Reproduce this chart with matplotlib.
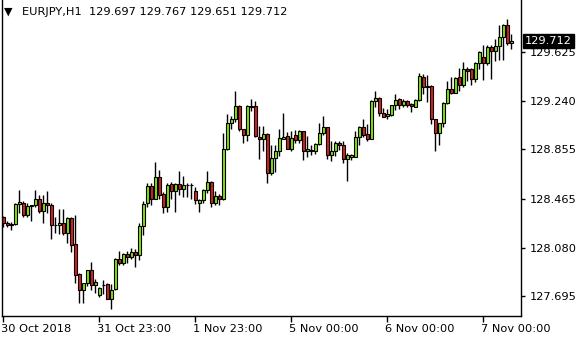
import matplotlib
matplotlib.use("Agg")
import matplotlib.pyplot as plt
import matplotlib.transforms as mtransforms

# EURJPY H1 candles (oldest first)
opens = [
    128.319, 128.276, 128.258, 128.266, 128.424, 128.434, 128.335, 128.408, 128.414, 128.461,
    128.371, 128.430, 128.419, 128.256, 128.256, 128.276, 128.193, 128.314, 128.108, 127.871,
    127.745, 127.798, 127.903, 127.787, 127.708, 127.782, 127.792, 127.676, 127.750, 127.992,
    127.960, 128.029, 128.003, 128.045, 128.019, 128.250, 128.430, 128.566, 128.466, 128.635,
    128.503, 128.398, 128.582, 128.525, 128.582, 128.545, 128.572, 128.577, 128.525, 128.430,
    128.456, 128.535, 128.598, 128.430, 128.487, 128.461, 128.856, 129.062, 129.098, 129.198,
    129.014, 128.967, 129.198, 129.198, 128.956, 128.935, 128.977, 128.667, 128.788, 128.845,
    128.940, 128.961, 128.861, 128.967, 128.930, 128.999, 128.841, 128.851, 128.841, 128.898,
    128.983, 129.030, 128.814, 128.845, 128.908, 128.888, 128.782, 128.798, 128.798, 128.951,
    129.030, 128.977, 128.940, 129.240, 129.262, 129.145, 129.119, 129.125, 129.204, 129.251,
    129.204, 129.236, 129.214, 129.193, 129.246, 129.425, 129.346, 129.356, 129.093, 128.983,
    129.062, 129.220, 129.330, 129.303, 129.425, 129.367, 129.488, 129.488, 129.409, 129.536,
    129.583, 129.540, 129.662, 129.631, 129.672, 129.741, 129.836, 129.697]
highs = [
    128.329, 128.288, 128.282, 128.430, 128.535, 128.450, 128.430, 128.419, 128.535, 128.493,
    128.498, 128.529, 128.434, 128.319, 128.387, 128.387, 128.324, 128.324, 128.340, 127.877,
    127.802, 127.903, 127.966, 127.829, 127.771, 127.824, 127.802, 127.792, 127.998, 128.055,
    128.035, 128.051, 128.077, 128.071, 128.272, 128.450, 128.592, 128.588, 128.756, 128.693,
    128.519, 128.592, 128.598, 128.588, 128.687, 128.645, 128.588, 128.592, 128.556, 128.466,
    128.545, 128.687, 128.608, 128.529, 128.503, 128.983, 129.135, 129.119, 129.315, 129.204,
    129.019, 129.204, 129.256, 129.240, 129.040, 129.040, 128.983, 128.890, 128.888, 129.014,
    129.145, 128.993, 128.999, 129.009, 129.009, 129.003, 128.961, 128.888, 128.904, 129.062,
    129.119, 129.035, 128.920, 128.924, 128.924, 128.924, 128.829, 128.819, 129.003, 129.040,
    129.098, 129.056, 129.246, 129.315, 129.272, 129.183, 129.177, 129.209, 129.293, 129.262,
    129.256, 129.246, 129.220, 129.256, 129.457, 129.451, 129.441, 129.362, 129.098, 129.066,
    129.230, 129.394, 129.430, 129.430, 129.499, 129.546, 129.504, 129.499, 129.546, 129.631,
    129.683, 129.678, 129.683, 129.730, 129.841, 129.846, 129.883, 129.767]
lows = [
    128.245, 128.245, 128.219, 128.261, 128.351, 128.319, 128.319, 128.292, 128.403, 128.355,
    128.276, 128.351, 128.150, 128.197, 128.187, 128.182, 128.114, 128.045, 127.798, 127.644,
    127.644, 127.776, 127.745, 127.719, 127.687, 127.713, 127.671, 127.597, 127.745, 127.945,
    127.940, 127.960, 127.990, 127.924, 127.982, 128.177, 128.398, 128.414, 128.461, 128.466,
    128.351, 128.361, 128.466, 128.361, 128.493, 128.477, 128.482, 128.461, 128.424, 128.361,
    128.434, 128.509, 128.398, 128.414, 128.419, 128.456, 128.851, 129.014, 129.072, 129.003,
    128.904, 128.924, 129.161, 128.951, 128.782, 128.841, 128.588, 128.651, 128.677, 128.803,
    128.935, 128.856, 128.841, 128.904, 128.904, 128.772, 128.798, 128.809, 128.819, 128.893,
    128.972, 128.782, 128.766, 128.803, 128.851, 128.746, 128.604, 128.772, 128.793, 128.893,
    128.956, 128.924, 128.935, 129.193, 129.119, 129.109, 129.093, 129.119, 129.167, 129.177,
    129.193, 129.193, 129.151, 129.188, 129.240, 129.293, 129.230, 129.056, 128.841, 128.888,
    129.030, 129.214, 129.293, 129.299, 129.315, 129.351, 129.394, 129.362, 129.388, 129.493,
    129.404, 129.520, 129.414, 129.556, 129.562, 129.562, 129.678, 129.651]
closes = [
    128.272, 128.256, 128.264, 128.424, 128.440, 128.335, 128.408, 128.419, 128.461, 128.371,
    128.430, 128.414, 128.256, 128.261, 128.272, 128.193, 128.314, 128.098, 127.866, 127.745,
    127.798, 127.903, 127.787, 127.808, 127.761, 127.787, 127.676, 127.745, 127.992, 127.960,
    128.029, 128.003, 128.045, 128.024, 128.250, 128.424, 128.566, 128.466, 128.635, 128.498,
    128.398, 128.572, 128.525, 128.582, 128.545, 128.572, 128.577, 128.572, 128.456, 128.456,
    128.535, 128.598, 128.430, 128.487, 128.461, 128.856, 129.062, 129.093, 129.198, 129.014,
    128.967, 129.198, 129.193, 128.961, 128.935, 128.977, 128.667, 128.788, 128.845, 128.946,
    128.956, 128.861, 128.946, 128.930, 128.999, 128.841, 128.861, 128.841, 128.898, 128.983,
    129.030, 128.814, 128.845, 128.908, 128.888, 128.782, 128.809, 128.809, 128.951, 129.030,
    128.972, 128.940, 129.240, 129.262, 129.145, 129.114, 129.135, 129.204, 129.246, 129.204,
    129.240, 129.209, 129.198, 129.246, 129.435, 129.346, 129.356, 129.093, 128.983, 129.062,
    129.220, 129.330, 129.303, 129.420, 129.367, 129.488, 129.477, 129.409, 129.536, 129.625,
    129.540, 129.662, 129.631, 129.672, 129.741, 129.836, 129.694, 129.712]

time_ticks = [0, 24, 48, 72, 96, 120]
time_labels = ["30 Oct 2018", "31 Oct 23:00", "1 Nov 23:00", "5 Nov 00:00", "6 Nov 00:00", "7 Nov 00:00"]
price_ticks = [129.625, 129.240, 128.855, 128.465, 128.080, 127.695]
price_labels = ["129.625", "129.240", "128.855", "128.465", "128.080", "127.695"]

UP = '#80e60a'
DOWN = '#dc1e1e'

fig = plt.figure(figsize=(5.8, 3.4), dpi=100)
ax = fig.add_axes([2 / 580, 24 / 340, 519 / 580, 316 / 340])

xs = list(range(len(opens)))
ax.vlines(xs, lows, highs, color='black', linewidth=1.0, zorder=1)
bottoms = [min(o, c) for o, c in zip(opens, closes)]
heights = [abs(c - o) for o, c in zip(opens, closes)]
colors = [UP if c >= o else DOWN for o, c in zip(opens, closes)]
ax.bar(xs, heights, bottom=bottoms, width=0.6, color=colors,
       edgecolor='black', linewidth=0.8, zorder=2)

ax.set_xlim(-0.325, 129.4)
ax.set_ylim(127.539, 130.036)

ax.spines['top'].set_visible(False)
for s in ['left', 'right', 'bottom']:
    ax.spines[s].set_linewidth(1.0)

ax.yaxis.tick_right()
ax.set_yticks(price_ticks)
ax.set_yticklabels(price_labels)
ax.tick_params(axis='y', direction='out', length=3, width=1, pad=3, labelsize=8.2)
ax.set_xticks(time_ticks)
ax.set_xticklabels(time_labels, ha='left')
ax.tick_params(axis='x', direction='out', length=4, width=1, pad=2, labelsize=8.2)

# shift x labels so they start at the tick
offset = mtransforms.ScaledTranslation(-2 / 100, 0, fig.dpi_scale_trans)
for lbl in ax.get_xticklabels():
    lbl.set_transform(lbl.get_transform() + offset)

# current price box
trans = mtransforms.blended_transform_factory(ax.transAxes, ax.transData)
ax.text(1.0 + 4 / 519, closes[-1], "%.3f" % closes[-1], transform=trans,
        color='white', fontsize=8.2, va='center', ha='left',
        bbox=dict(boxstyle='square,pad=0.2', facecolor='black', edgecolor='black'))

fig.text(4 / 580, 1 - 12 / 340, "\u25bc", fontsize=8, va='center', ha='left')
fig.text(22 / 580, 1 - 12 / 340,
         "EURJPY,H1  %.3f %.3f %.3f %.3f" % (opens[-1], highs[-1], lows[-1], closes[-1]),
         fontsize=8.2, va='center', ha='left')

fig.savefig('out.png', dpi=100)
